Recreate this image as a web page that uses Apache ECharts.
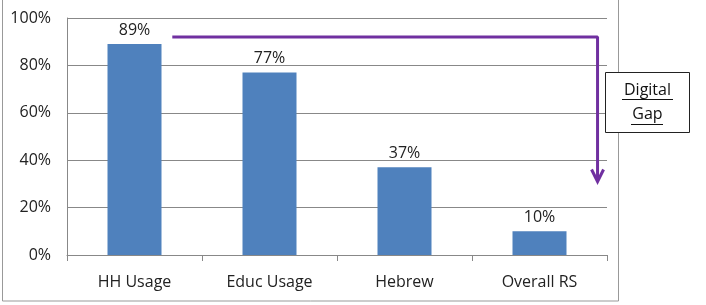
<!DOCTYPE html>
<html><head><meta charset="utf-8">
<script src="https://cdn.jsdelivr.net/npm/echarts@6/dist/echarts.min.js"></script>
<style>html,body{margin:0;padding:0;background:#fff}#c{width:706px;height:305px}</style>
</head><body><div id="c"></div>
<script>
const categories = ['HH Usage', 'Educ Usage', 'Hebrew', 'Overall RS'];
const values = [89, 77, 37, 10];
const yTicks = [0, 20, 40, 60, 80, 100];
// arrow path in data coords: [x position on 0..4 category span, value %]
const arrowPath = [[0.78, 92], [3.93, 92], [3.93, 31]];
const noteText = 'Digital\nGap';

const chart = echarts.init(document.getElementById('c'));
const font = 'Open Sans, Liberation Sans, sans-serif';
chart.setOption({
  animation: false,
  grid: {left: 67, right: 99, top: 18, bottom: 50},
  xAxis: [{
    type: 'category', data: categories,
    axisLine: {lineStyle: {color: '#888', width: 1}},
    axisTick: {show: true, length: 6, lineStyle: {color: '#888'}},
    axisLabel: {color: '#222', fontSize: 16, fontFamily: font, margin: 19}
  }, {
    type: 'value', min: 0, max: 4, show: false
  }],
  yAxis: {
    type: 'value', min: 0, max: 100, interval: 20,
    axisLine: {show: true, lineStyle: {color: '#888'}},
    axisTick: {show: false},
    splitLine: {lineStyle: {color: '#888', width: 1}},
    axisLabel: {color: '#222', fontSize: 16, fontFamily: font, margin: 16, formatter: v => v + '%'}
  },
  series: [{
    type: 'bar', data: values, barWidth: '40%',
    itemStyle: {color: '#4F81BD'},
    label: {show: true, position: 'top', distance: 6, color: '#222', fontSize: 16, fontFamily: font, formatter: p => p.value + '%'}
  }, {
    type: 'line', xAxisIndex: 1, data: arrowPath, symbol: 'none',
    lineStyle: {color: '#7030A0', width: 3}, silent: true, z: 5
  }]
});

function drawExtras() {
  const end = chart.convertToPixel({xAxisIndex: 1, yAxisIndex: 0}, arrowPath[arrowPath.length - 1]);
  chart.setOption({
    graphic: [
      {type: 'rect', shape: {x: 2.5, y: -2, width: 616, height: 303}, style: {fill: 'none', stroke: '#999', lineWidth: 1}, silent: true},
      {type: 'polyline', shape: {points: [[end[0] - 6, end[1] - 12], [end[0], end[1]], [end[0] + 6, end[1] - 12]]}, style: {fill: 'none', stroke: '#7030A0', lineWidth: 3}, z: 10},
      {type: 'rect', shape: {x: 605.5, y: 72.5, width: 84, height: 60}, style: {fill: '#fff', stroke: '#222', lineWidth: 1}, z: 10},
      {type: 'text', x: 647.5, y: 78, style: {text: noteText, fill: '#111', fontSize: 16, fontFamily: font, align: 'center', verticalAlign: 'top', lineHeight: 24}, z: 11},
      {type: 'line', shape: {x1: 622, y1: 99.5, x2: 673, y2: 99.5}, style: {stroke: '#111', lineWidth: 1}, z: 11},
      {type: 'line', shape: {x1: 631, y1: 124.5, x2: 663, y2: 124.5}, style: {stroke: '#111', lineWidth: 1}, z: 11}
    ]
  });
}
drawExtras();
</script></body></html>
